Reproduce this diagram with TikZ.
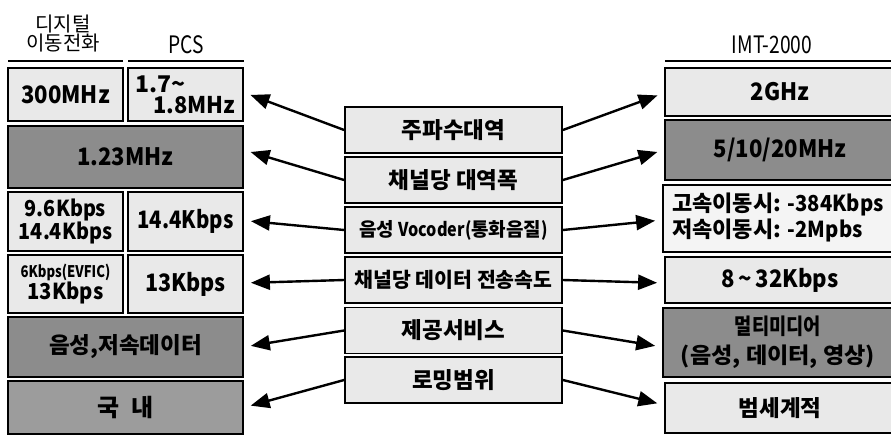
\documentclass[tikz,border=0pt]{standalone}
\usepackage{fontspec}
\setmainfont{Noto Sans CJK KR}
\usetikzlibrary{arrows.meta,calc}
\definecolor{lightg}{HTML}{E9E9E9}
\definecolor{whiteg}{HTML}{F4F4F4}
\definecolor{darkg}{HTML}{8C8C8C}
\definecolor{midg}{HTML}{9C9C9C}
\newcommand{\cnd}[2][0.86]{\scalebox{#1}[1]{#2}}
\newcommand{\fs}[1]{\fontsize{#1}{#1}\selectfont}
\tikzset{
  bx/.style={draw=black, line width=1.8pt, inner sep=0pt, align=center,
    font=\bfseries\fs{22.5}},
  lt/.style={bx, fill=lightg},
  wt/.style={bx, fill=whiteg},
  dk/.style={bx, fill=darkg},
  md/.style={bx, fill=midg},
  hdr/.style={inner sep=0pt, align=center, font=\fontsize{20}{19}\selectfont},
  uline/.style={line width=2pt},
  arr/.style={line width=2.4pt, -{Triangle[length=19pt,width=15pt]}, shorten >=7pt}
}
\begin{document}
\begin{tikzpicture}[x=1pt,y=-1pt]
\useasboundingbox (0,0) rectangle (891,436);
\clip (0,0) rectangle (891,436);
\fill[white] (0,0) rectangle (891,436);

% headers
\node[hdr] (h1) at (63,34) {디지털\\이동전화};
\node[hdr, font=\fs{24}] (h2) at (186,45) {\cnd[0.8]{PCS}};
\node[hdr, font=\fs{24}] (h3) at (772,45) {\cnd[0.8]{IMT-2000}};
\draw[uline] (8,61) -- (123,61);
\draw[uline] (128,61) -- (244,61);
\draw[uline] (665,61) -- (895,61);

% left column
\node[lt, minimum width=115pt, minimum height=53pt, font=\bfseries\fs{24}] (l1a) at (65.5,94.5) {\cnd[0.92]{300MHz}};
\node[lt, minimum width=115pt, minimum height=53pt, font=\bfseries\fs{23}] (l1b) at (185.5,94.5)
  {\makebox[100pt][l]{1.7\textasciitilde}\\[-2pt]\makebox[100pt][r]{\cnd[0.95]{1.8MHz}}};
\node[dk, minimum width=235pt, minimum height=62pt, font=\bfseries\fs{24}] (l2) at (125.5,157) {\cnd[0.92]{1.23MHz}};
\node[lt, minimum width=115pt, minimum height=59pt, font=\bfseries\fontsize{22}{18}\selectfont] (l3a) at (65.5,221.5) {\cnd[0.9]{9.6Kbps}\\\cnd[0.9]{14.4Kbps}};
\node[lt, minimum width=115pt, minimum height=59pt, font=\bfseries\fs{24}] (l3b) at (185.5,221.5) {\cnd[0.85]{14.4Kbps}};
\node[lt, minimum width=115pt, minimum height=58pt, font=\bfseries\fontsize{22}{17}\selectfont] (l4a) at (65.5,284)
  {{\fs{16}\cnd[0.82]{6Kbps(EVFIC)}}\\\cnd[0.92]{13Kbps}};
\node[lt, minimum width=115pt, minimum height=58pt, font=\bfseries\fs{24}] (l4b) at (185.5,284) {\cnd[0.9]{13Kbps}};
\node[dk, minimum width=235pt, minimum height=60pt, font=\bfseries\fs{22.5}] (l5) at (125.5,347) {음성,저속데이터};
\node[md, minimum width=235pt, minimum height=53pt, font=\bfseries\fs{24}] (l6) at (125.5,407.5) {국\hspace{12pt}내};

% centre column
\node[lt, minimum width=217pt, minimum height=46pt] (c1) at (453.5,130) {주파수대역};
\node[lt, minimum width=217pt, minimum height=46pt] (c2) at (453.5,180) {채널당 대역폭};
\node[lt, minimum width=217pt, minimum height=46pt, font=\bfseries\fs{19}] (c3) at (453.5,230) {음성 \cnd[0.85]{Vocoder(}통화음질\cnd[0.85]{)}};
\node[lt, minimum width=217pt, minimum height=46pt, font=\bfseries\fs{20.5}] (c4) at (453.5,280) {채널당 데이터 전송속도};
\node[lt, minimum width=217pt, minimum height=46pt] (c5) at (453.5,330.5) {제공서비스};
\node[lt, minimum width=217pt, minimum height=46pt] (c6) at (453.5,380) {로밍범위};

% right column
\node[lt, minimum width=230pt, minimum height=48pt, font=\bfseries\fs{24}] (r1) at (780,92) {\cnd[0.92]{2GHz}};
\node[dk, minimum width=230pt, minimum height=60pt, font=\bfseries\fs{24}] (r2) at (780,150) {\cnd[0.92]{5/10/20MHz}};
\node[wt, minimum width=230pt, minimum height=67pt, font=\bfseries\fontsize{22}{30}\selectfont] (r3) at (778,218.5)
  {\begin{tabular}{@{}l@{}}고속이동시: \cnd[0.92]{-384Kbps}\\[-4pt]저속이동시: \cnd[0.92]{-2Mpbs}\end{tabular}};
\node[lt, minimum width=230pt, minimum height=46pt, font=\bfseries\fs{24}] (r4) at (780,280) {\cnd[0.92]{8\,\textasciitilde\,32Kbps}};
\node[dk, minimum width=230pt, minimum height=69pt, font=\bfseries\fontsize{22}{29}\selectfont] (r5) at (778,342.5) {\cnd[0.85]{멀티미디어}\\\cnd[1.05]{(음성, 데이터, 영상)}};
\node[lt, minimum width=230pt, minimum height=50pt, font=\bfseries\fs{22.5}] (r6) at (780,408) {범세계적};

% arrows to the left
\draw[arr] (c1.west) -- ($(l1b.east)+(0,-2)$);
\draw[arr] (c2.west) -- ($(l2.east)+(0,-7)$);
\draw[arr] (c3.west) -- ($(l3b.east)+(0,-1)$);
\draw[arr] (c4.west) -- ($(l4b.east)+(0,-1)$);
\draw[arr] (c5.west) -- (l5.east);
\draw[arr] (c6.west) -- (l6.east);

% arrows to the right
\draw[arr] (c1.east) -- ($(r1.west)+(0,1)$);
\draw[arr] (c2.east) -- (r2.west);
\draw[arr] (c3.east) -- ($(r3.west)+(0,1.5)$);
\draw[arr] (c4.east) -- ($(r4.west)+(0,3)$);
\draw[arr] (c5.east) -- ($(r5.west)+(0,4.5)$);
\draw[arr] (c6.east) -- ($(r6.west)+(0,-3)$);
\end{tikzpicture}
\end{document}
